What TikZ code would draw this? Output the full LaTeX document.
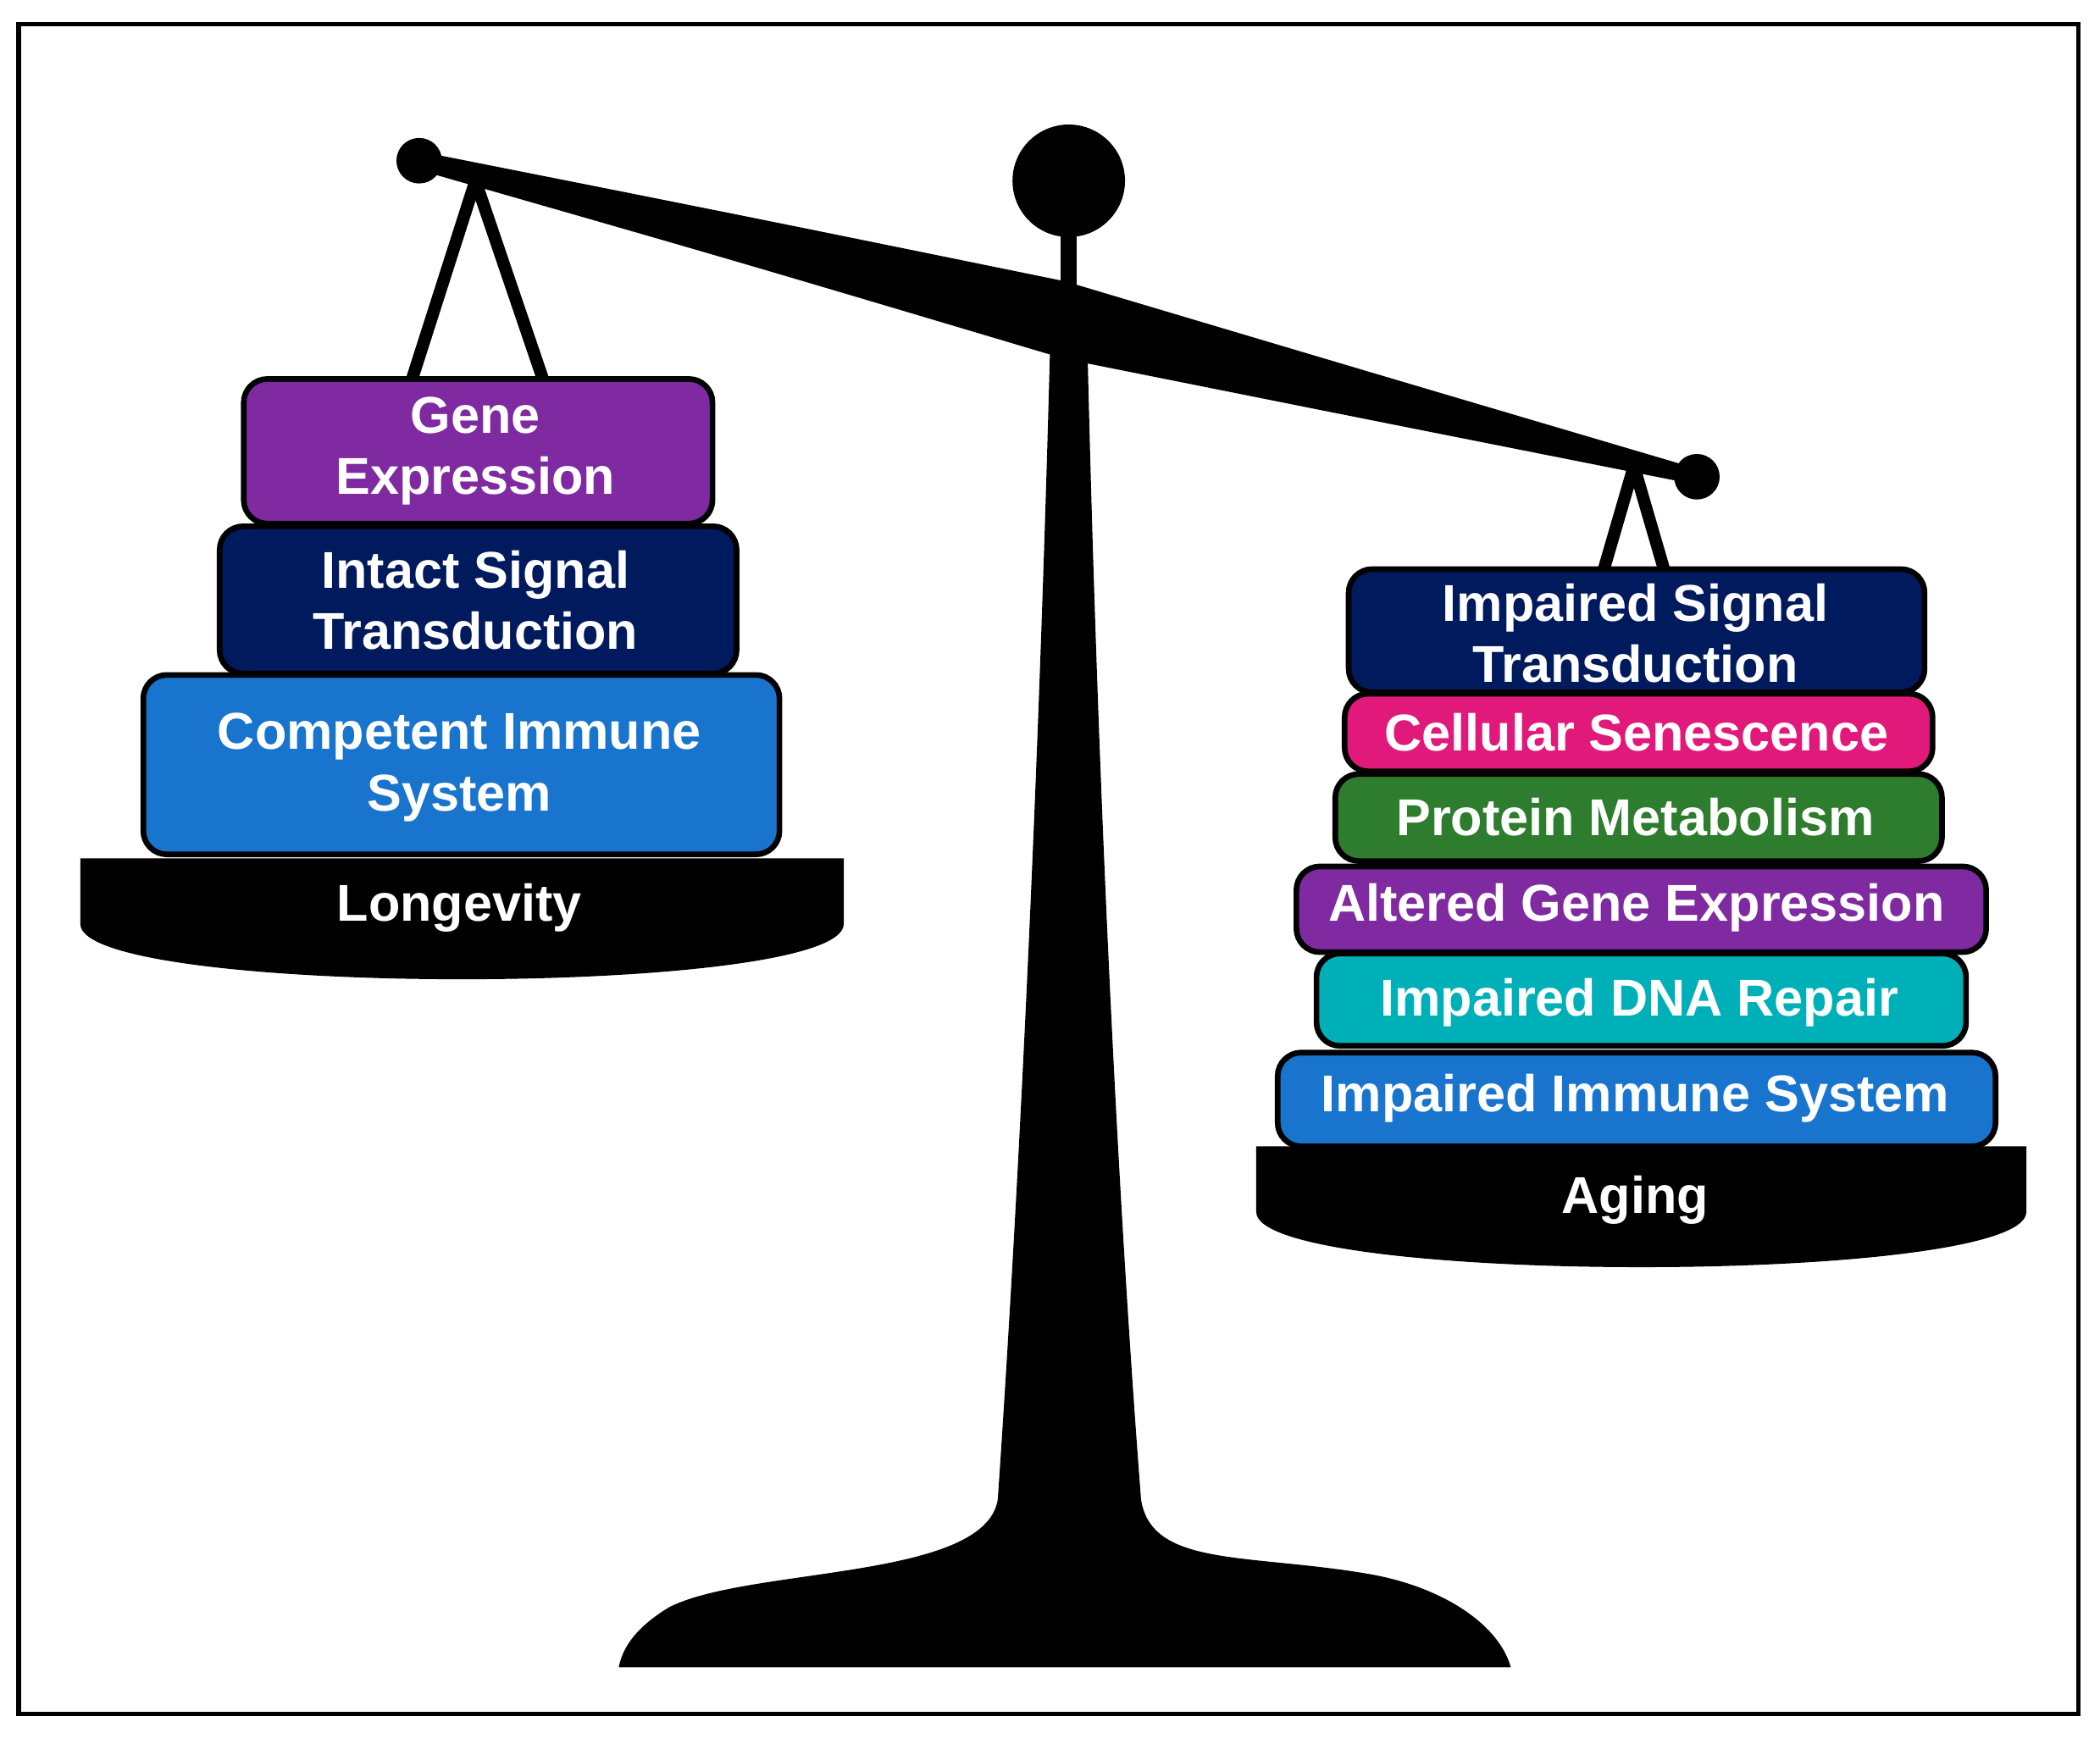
\documentclass[tikz,border=0pt]{standalone}
\usepackage{fontspec}
\setmainfont{Liberation Sans}
\definecolor{cpurple}{HTML}{7F2AA0}
\definecolor{cnavy}{HTML}{001A5E}
\definecolor{cblue}{HTML}{1874CC}
\definecolor{cmag}{HTML}{E0197A}
\definecolor{cgreen}{HTML}{2E7D2E}
\definecolor{cteal}{HTML}{00B0B9}
\begin{document}
\begin{tikzpicture}[x=0.01cm,y=-0.01cm,
  blk/.style={draw=black,line width=1.2pt,rounded corners=5pt},
  lbl/.style={text=white,font=\bfseries\fontsize{11}{13}\selectfont,align=center},
  hang/.style={line width=2.6pt,line join=round}]
\useasboundingbox (0,0) rectangle (1568,1302);
\draw[line width=1pt] (14,18) rectangle (1552,1280);
% stand
\fill (784,262) .. controls (775,600) and (760,900) .. (745,1120) .. controls (735,1180) and (560,1170) .. (500,1200) .. controls (475,1215) and (465,1230) .. (462,1245) -- (1128,1245) .. controls (1120,1215) and (1080,1185) .. (1020,1175) .. controls (930,1160) and (860,1170) .. (852,1120) .. controls (835,900) and (820,600) .. (812,262) -- cycle;
\fill (792,130) rectangle (804,270);
\fill (798,135) circle (42);
% beam
\fill (313,113) .. controls (550,160) .. (795,210) .. controls (1030,280) .. (1267,350) -- (1267,362) .. controls (1030,315) .. (795,268) .. controls (550,195) .. (313,127) -- cycle;
\fill (313,120) circle (17);
\fill (1267,356) circle (17);
% hangers
\coordinate (la) at (355,135); \coordinate (ll) at (308,282); \coordinate (lr) at (405,282);
\draw[hang] (ll) -- (la) -- (lr);
\coordinate (ra) at (1220,348); \coordinate (rl) at (1197,427); \coordinate (rr) at (1243,427);
\draw[hang] (rl) -- (ra) -- (rr);
% pans
\fill (60,641) -- (630,641) -- (630,690) .. controls (630,745) and (60,745) .. (60,690) -- cycle;
\node[lbl] (lon) at (343,678) {Longevity};
\fill (938,856) -- (1513,856) -- (1513,905) .. controls (1513,960) and (938,960) .. (938,905) -- cycle;
\node[lbl] (age) at (1221,896) {Aging};
% left boxes
\draw[blk,fill=cpurple] (182,283) rectangle (532,391);
\node[lbl] (ge) at (355,337) {Gene\\Expression};
\draw[blk,fill=cnavy] (164,393) rectangle (550,503);
\node[lbl] (ist) at (355,448) {Intact Signal\\Transduction};
\draw[blk,fill=cblue] (107,504) rectangle (582,638);
\node[lbl] (cis) at (343,573) {Competent Immune\\System};
% right boxes
\draw[blk,fill=cnavy] (1007,425) rectangle (1437,517);
\node[lbl] (ist2) at (1221,473) {Impaired Signal\\Transduction};
\draw[blk,fill=cmag] (1004,518) rectangle (1443,576);
\node[lbl] (cs) at (1222,547) {Cellular Senescence};
\draw[blk,fill=cgreen] (997,578) rectangle (1450,643);
\node[lbl] (pm) at (1221,610) {Protein Metabolism};
\draw[blk,fill=cpurple] (968,647) rectangle (1483,711);
\node[lbl] (age2) at (1222,678) {Altered Gene Expression};
\draw[blk,fill=cteal] (983,712) rectangle (1468,781);
\node[lbl] (dna) at (1224,749) {Impaired DNA Repair};
\draw[blk,fill=cblue] (954,786) rectangle (1490,856);
\node[lbl] (iis) at (1221,820) {Impaired Immune System};
\end{tikzpicture}
\end{document}
